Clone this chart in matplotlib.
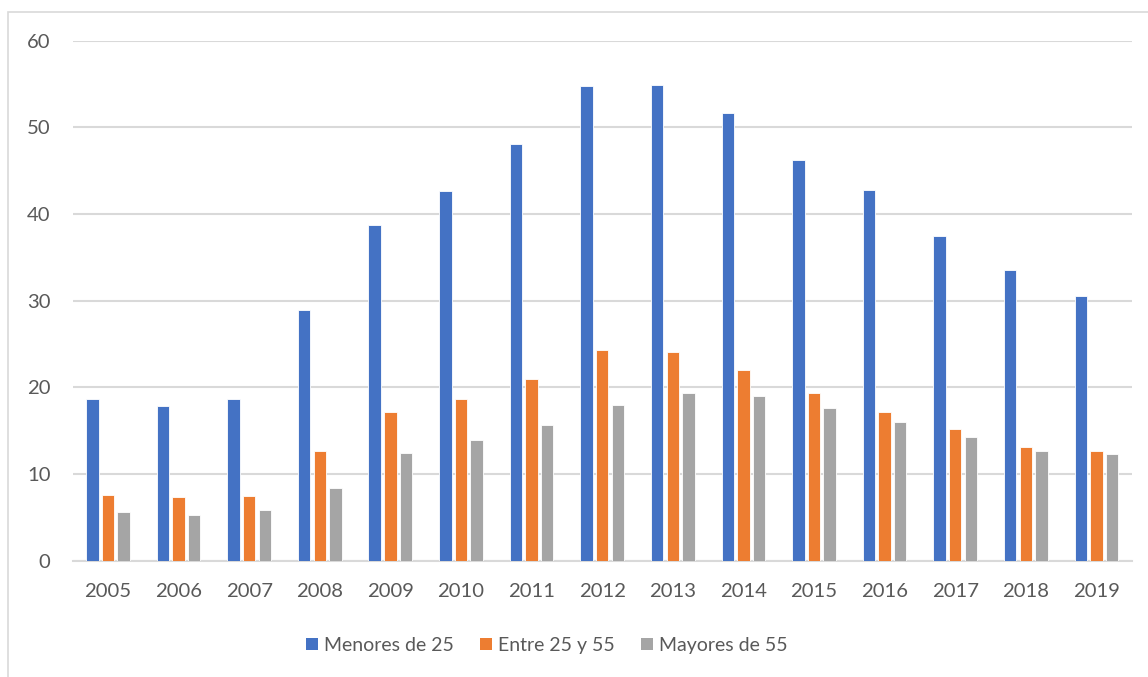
import numpy as np
import matplotlib.pyplot as plt
from matplotlib.patches import Rectangle, Patch

years = [str(y) for y in range(2005, 2020)]
menores_25 = [18.6, 17.8, 18.6, 28.9, 38.7, 42.7, 48.1, 54.8, 54.9, 51.7, 46.2, 42.8, 37.4, 33.5, 30.5]
entre_25_55 = [7.6, 7.3, 7.5, 12.6, 17.2, 18.6, 21.0, 24.3, 24.1, 22.0, 19.3, 17.1, 15.2, 13.1, 12.6]
mayores_55 = [5.6, 5.3, 5.8, 8.4, 12.4, 13.9, 15.6, 18.0, 19.3, 19.0, 17.6, 16.0, 14.3, 12.7, 12.3]
series_names = ['Menores de 25', 'Entre 25 y 55', 'Mayores de 55']
colors = ['#4472C4', '#ED7D31', '#A5A5A5']

plt.rcParams['font.family'] = ['Lato', 'DejaVu Sans']
text_color = '#595959'
grid_color = '#D9D9D9'

fig = plt.figure(figsize=(11.48, 6.77), dpi=100)
ax = fig.add_axes([0.0633, 0.172, 0.9225, 0.768])

# light frame around the chart area
fig.patches.append(Rectangle((8 / 1148, -0.05), 1.1, 1 - 12 / 677 + 0.05,
                             transform=fig.transFigure, fill=False,
                             edgecolor=grid_color, linewidth=1.2))

x = np.arange(len(years))
width = 0.176
step = 0.222
for i, (vals, name) in enumerate(zip([menores_25, entre_25_55, mayores_55], series_names)):
    ax.bar(x + (i - 1) * step, vals, width, color=colors[i], edgecolor='white',
           linewidth=0.6, label=name, zorder=3)

ax.set_xlim(-0.5, len(years) - 0.5)
ax.set_ylim(0, 60)
ax.set_yticks(range(0, 61, 10))
ax.set_xticks(x)
ax.set_xticklabels(years)
ax.yaxis.grid(True, color=grid_color, linewidth=1.5, zorder=0)
ax.set_axisbelow(True)
for side in ['top', 'right', 'left']:
    ax.spines[side].set_visible(False)
ax.spines['bottom'].set_color(grid_color)
ax.spines['bottom'].set_linewidth(1.5)
ax.tick_params(axis='both', length=0, labelsize=14.6, colors=text_color)
ax.tick_params(axis='y', pad=16)
ax.tick_params(axis='x', pad=16)

handles = [Patch(facecolor=c, edgecolor='none') for c in colors]
fig.legend(handles, series_names, loc='center', bbox_to_anchor=(0.476, 0.047),
           ncol=3, frameon=False, fontsize=14.0, labelcolor=text_color,
           handlelength=0.62, handleheight=0.62, handletextpad=0.3,
           columnspacing=1.35)

fig.savefig('out.png', dpi=100)
